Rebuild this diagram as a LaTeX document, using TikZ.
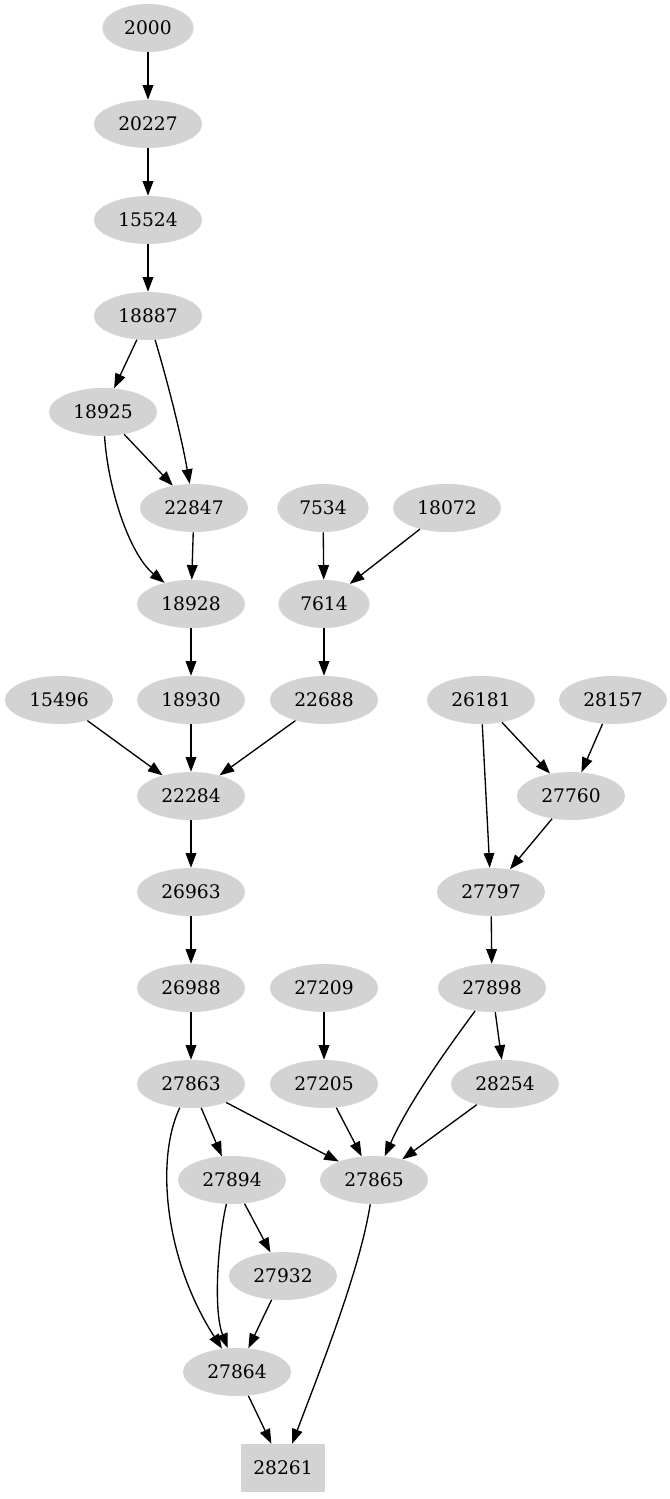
\documentclass[tikz,border=0pt]{standalone}
\usepackage{fontspec}
\setmainfont{DejaVu Serif}
\usepackage{xcolor}
\usetikzlibrary{arrows.meta, shapes.geometric}
\definecolor{ngray}{HTML}{D3D3D3}
\tikzset{
  gnode/.style={ellipse, fill=ngray, minimum height=36pt, inner xsep=6.4pt,
                inner ysep=2pt, font=\fontsize{14}{16}\selectfont},
  gsink/.style={rectangle, fill=ngray, minimum height=36pt, minimum width=63pt,
                font=\fontsize{14}{16}\selectfont},
  arr/.style={-{Triangle[length=11pt, width=8pt]}, line width=1pt, black},
}

\begin{document}
\begin{tikzpicture}[x=0.75pt, y=0.75pt]
  \useasboundingbox (0,0) rectangle (670,-1499);

  %% ── nodes, one row per rank ──
  \node[gnode] (n2000)  at (148,-28)   {2000};
  \node[gnode] (n20227) at (148,-124)  {20227};
  \node[gnode] (n15524) at (148,-220)  {15524};
  \node[gnode] (n18887) at (148,-316)  {18887};
  \node[gnode] (n18925) at (103,-412)  {18925};
  \node[gnode] (n22847) at (194,-508)  {22847};
  \node[gnode] (n7534)  at (323,-508)  {7534};
  \node[gnode] (n18072) at (447,-508)  {18072};
  \node[gnode] (n18928) at (191,-604)  {18928};
  \node[gnode] (n7614)  at (324,-604)  {7614};
  \node[gnode] (n15496) at (59,-700)   {15496};
  \node[gnode] (n18930) at (191,-700)  {18930};
  \node[gnode] (n22688) at (324,-700)  {22688};
  \node[gnode] (n26181) at (481,-700)  {26181};
  \node[gnode] (n28157) at (613,-700)  {28157};
  \node[gnode] (n22284) at (191,-796)  {22284};
  \node[gnode] (n27760) at (571,-796)  {27760};
  \node[gnode] (n26963) at (191,-892)  {26963};
  \node[gnode] (n27797) at (491,-892)  {27797};
  \node[gnode] (n26988) at (191,-988)  {26988};
  \node[gnode] (n27209) at (324,-988)  {27209};
  \node[gnode] (n27898) at (492,-988)  {27898};
  \node[gnode] (n27863) at (191,-1084) {27863};
  \node[gnode] (n27205) at (324,-1084) {27205};
  \node[gnode] (n28254) at (505,-1084) {28254};
  \node[gnode] (n27894) at (232,-1180) {27894};
  \node[gnode] (n27865) at (374,-1180) {27865};
  \node[gnode] (n27932) at (283,-1276) {27932};
  \node[gnode] (n27864) at (237,-1372) {27864};
  \node[gsink] (n28261) at (283,-1468) {28261};

  %% ── straight edges ──
  \draw[arr] (n2000) -- (n20227);
  \draw[arr] (n20227) -- (n15524);
  \draw[arr] (n15524) -- (n18887);
  \draw[arr] (n18887) -- (n18925);
  \draw[arr] (n18925) -- (n22847);
  \draw[arr] (n22847) -- (n18928);
  \draw[arr] (n7534) -- (n7614);
  \draw[arr] (n18072) -- (n7614);
  \draw[arr] (n18928) -- (n18930);
  \draw[arr] (n7614) -- (n22688);
  \draw[arr] (n15496) -- (n22284);
  \draw[arr] (n18930) -- (n22284);
  \draw[arr] (n22688) -- (n22284);
  \draw[arr] (n26181) -- (n27760);
  \draw[arr] (n28157) -- (n27760);
  \draw[arr] (n26181) -- (n27797);
  \draw[arr] (n27760) -- (n27797);
  \draw[arr] (n22284) -- (n26963);
  \draw[arr] (n26963) -- (n26988);
  \draw[arr] (n27797) -- (n27898);
  \draw[arr] (n26988) -- (n27863);
  \draw[arr] (n27209) -- (n27205);
  \draw[arr] (n27898) -- (n28254);
  \draw[arr] (n27863) -- (n27865);
  \draw[arr] (n27205) -- (n27865);
  \draw[arr] (n28254) -- (n27865);
  \draw[arr] (n27863) -- (n27894);
  \draw[arr] (n27894) -- (n27932);
  \draw[arr] (n27932) -- (n27864);
  \draw[arr] (n27864) -- (n28261);

  %% ── curved edges ──
  \draw[arr] (n18887) .. controls (170,-390) and (182,-440) .. (n22847);
  \draw[arr] (n18925) .. controls (108,-490) and (130,-555) .. (n18928);
  \draw[arr] (n27898) .. controls (450,-1045) and (410,-1100) .. (n27865);
  \draw[arr] (n27863) .. controls (155,-1160) and (165,-1260) .. (n27864);
  \draw[arr] (n27894) .. controls (218,-1240) and (213,-1310) .. (n27864);
  \draw[arr] (n27865) .. controls (360,-1270) and (320,-1370) .. (n28261);
\end{tikzpicture}
\end{document}
